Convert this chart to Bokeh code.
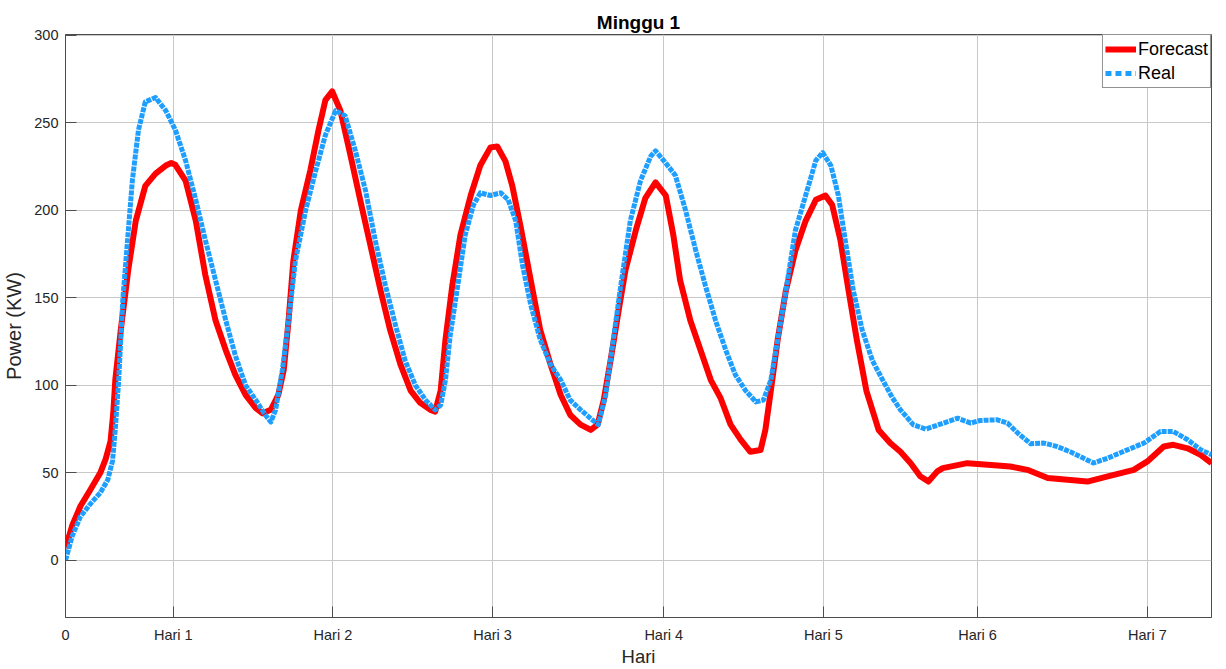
from bokeh.plotting import figure
from bokeh.models import Range1d, FixedTicker, Legend, LegendItem
from bokeh.embed import file_html
from bokeh.resources import INLINE

# ---- data (x in hours from start of week, y in KW) ----
forecast_x = [0.0, 1.0, 2.2, 3.6, 5.1, 5.9, 6.6, 7.0, 7.3, 8.1, 9.2, 10.3, 11.7, 13.2, 14.7, 15.5, 16.1, 17.6, 19.1, 20.5,
              22.0, 23.5, 24.9, 26.4, 27.9, 28.9, 30.1, 31.2, 32.0, 32.7, 33.4, 34.5, 35.9, 37.1, 38.1,
              39.1, 40.3, 41.8, 43.2, 44.7, 46.2, 47.6, 49.1, 50.6, 52.0, 53.5, 54.2, 55.0, 55.7, 56.7,
              57.9, 59.4, 60.8, 62.3, 63.3, 64.5, 65.5, 66.7, 68.2, 69.6, 71.1, 72.6, 74.0, 75.5, 77.0,
              78.0, 78.9, 79.9, 81.1, 82.1, 83.6, 85.0, 86.5, 88.0, 89.1, 90.1, 91.6, 93.1, 94.6, 96.0,
              97.5, 99.0, 100.4, 101.9, 102.6, 103.4, 104.4, 105.6, 107.0, 108.5, 110.0, 111.4, 112.4,
              113.6, 114.8, 116.0, 117.4, 119.2, 120.9, 122.4, 123.9, 125.3, 126.5, 127.8, 128.6, 132.2,
              135.2, 138.5, 141.0, 144.0, 146.9, 149.8, 152.8, 156.6, 158.6, 161.0, 162.4, 164.5, 166.4,
              168.0]
forecast_y = [7, 20, 31, 40, 50, 58, 68, 84, 103, 131.5, 166, 194, 214, 221, 225.6, 227, 226, 217, 194, 163,
              137, 120, 106, 94.5, 87, 84, 86, 94.5, 109, 137, 171, 200, 223, 246, 263,
              268, 257, 231, 206, 180, 154, 131.5, 112, 97, 90, 86, 85, 97, 126, 157,
              186, 208.5, 225.6, 236, 236.5, 228, 214, 191, 160, 131.5, 112, 94.5, 83, 77.5, 74.5,
              77.5, 91.5, 114, 143, 166, 188.5, 207, 216, 208.5, 186, 160, 137, 120, 103, 93,
              77.5, 68.8, 62, 63, 74.5, 97, 126, 154, 177, 194, 206, 208.5, 203,
              183, 154, 126, 97, 74.5, 67, 62, 55.5, 48, 45, 50.8, 52.7, 55.5,
              54.6, 53.6, 51.7, 47, 46, 45, 48, 51.7, 56.5, 65, 66, 64, 60.3,
              55.5]

real_x = [0.0, 1.0, 2.2, 3.6, 5.1, 6.2, 6.9, 7.3, 7.8, 8.4, 9.1, 9.8, 10.7, 11.7, 13.2, 14.7, 16.1, 17.6,
          19.1, 20.5, 22.0, 23.5, 24.9, 26.4, 27.9, 29.3, 30.1, 30.8, 31.8, 32.7, 33.7, 35.2, 36.7,
          38.1, 39.6, 41.0, 42.5, 44.0, 45.4, 46.9, 48.4, 49.8, 51.3, 52.8, 54.2, 55.0, 55.7, 56.4,
          57.5, 58.6, 59.8, 60.8, 62.3, 63.8, 64.9, 66.0, 67.0, 68.2, 69.6, 71.1, 72.6, 74.0, 75.5,
          77.0, 78.1, 79.2, 80.2, 81.4, 82.8, 84.3, 85.8, 86.5, 88.0, 89.4, 90.9, 92.4, 93.8, 95.3,
          96.8, 98.2, 99.7, 101.2, 102.3, 103.4, 104.4, 105.6, 107.0, 108.5, 110.0, 111.0, 112.2,
          113.3, 114.3, 115.5, 116.8, 118.3, 119.8, 121.2, 122.4, 124.3, 126.1, 128.7, 130.8, 132.7,
          134.1, 136.6, 138.1, 139.6, 141.5, 143.4, 145.4, 147.3, 149.2, 150.7, 152.8, 155.7, 158.1,
          160.5, 162.4, 164.5, 166.4, 168.0]
real_y = [0, 14, 25, 32, 38.6, 46, 57, 75, 103, 149, 183, 217, 246, 262, 264.5, 257, 246, 228.5,
          206, 183, 160, 137, 117, 100, 91.5, 83, 79, 86, 109, 137, 171, 200, 223,
          243, 257, 254, 234, 211, 183, 157, 134, 114, 100, 91.5, 86, 88.7, 103, 128.6,
          157, 186, 203, 210, 208.5, 210, 206, 194, 168.6, 146, 126, 112, 103, 91.5, 86,
          81, 77.5, 94.5, 123, 157, 194, 217, 231, 234, 227, 220, 200, 177, 157, 137,
          120, 106, 97, 90.5, 91.5, 103, 126, 154, 188.5, 208.5, 228.5, 233, 225.6,
          208.5, 183, 154, 131.5, 114, 103, 93, 86, 77.4, 75, 78.4, 81.2, 78.4,
          79.9, 80.3, 78.4, 72.7, 66.6, 67, 65, 62, 58.4, 55.6, 58.4, 63.2, 67,
          73.6, 73.6, 68.9, 63.2, 60.3]

tick_positions = [0, 15.8, 39.2, 62.6, 87.7, 111.1, 133.7, 158.6]
tick_labels = ["0", "Hari 1", "Hari 2", "Hari 3", "Hari 4", "Hari 5", "Hari 6", "Hari 7"]
y_ticks = [0, 50, 100, 150, 200, 250, 300]

FONT = "Liberation Sans"
TXT = "#262626"
AX = "#4d4d4d"

p = figure(width=1226, height=669, output_backend="svg", toolbar_location=None,
           x_range=Range1d(0, 168), y_range=Range1d(-32.7, 300.5),
           min_border_left=65, min_border_right=15, min_border_top=34, min_border_bottom=51,
           background_fill_color="white", border_fill_color="white")

p.title.text = "Minggu 1"
p.title.align = "center"
p.title.text_font = FONT
p.title.text_font_size = "19px"
p.title.text_font_style = "bold"
p.title.text_color = "black"
p.title.standoff = 4

p.xaxis.ticker = FixedTicker(ticks=tick_positions)
p.xaxis.major_label_overrides = {t: l for t, l in zip(tick_positions, tick_labels)}
p.yaxis.ticker = FixedTicker(ticks=y_ticks)

for ax in (p.xaxis[0], p.yaxis[0]):
    ax.major_tick_in = 11
    ax.major_tick_out = 0
    ax.minor_tick_in = 0
    ax.minor_tick_out = 0
    ax.axis_line_color = AX
    ax.major_tick_line_color = AX
    ax.major_label_text_font = FONT
    ax.major_label_text_font_size = "14.5px"
    ax.major_label_text_color = TXT
    ax.axis_label_text_font = FONT
    ax.axis_label_text_font_size = "20px"
    ax.axis_label_text_font_style = "normal"
    ax.axis_label_text_color = TXT

p.xaxis.axis_label = "Hari"
p.yaxis.axis_label = "Power (KW)"
p.xaxis.axis_label_text_font_size = "18.5px"
p.xaxis.major_label_standoff = 9
p.yaxis.major_label_standoff = 7
p.xaxis.axis_label_standoff = 0
p.yaxis.axis_label_standoff = 6

p.outline_line_color = AX
p.xgrid.grid_line_color = "#c8c8c8"
p.ygrid.grid_line_color = "#c8c8c8"

r_fc = p.line(forecast_x, forecast_y, line_color="#FF0000", line_width=6, line_join="round")
r_real = p.line(real_x, real_y, line_color="#1E9EFF", line_width=5, line_dash="5 1", line_join="round")
leg_real = p.line([float("nan"), float("nan")], [float("nan"), float("nan")],
                  line_color="#1E9EFF", line_width=5, line_dash="6 4")

legend = Legend(items=[LegendItem(label="Forecast", renderers=[r_fc]),
                       LegendItem(label="Real", renderers=[leg_real])],
                location="top_right", margin=0, padding=2, spacing=0,
                label_text_font=FONT, label_text_font_size="18px", label_text_color="black",
                glyph_width=31, glyph_height=24, label_standoff=2, label_height=24,
                border_line_color="#262626", border_line_width=1,
                background_fill_color="white", background_fill_alpha=1)
p.add_layout(legend)

open("out.html", "w").write(file_html(p, INLINE))
